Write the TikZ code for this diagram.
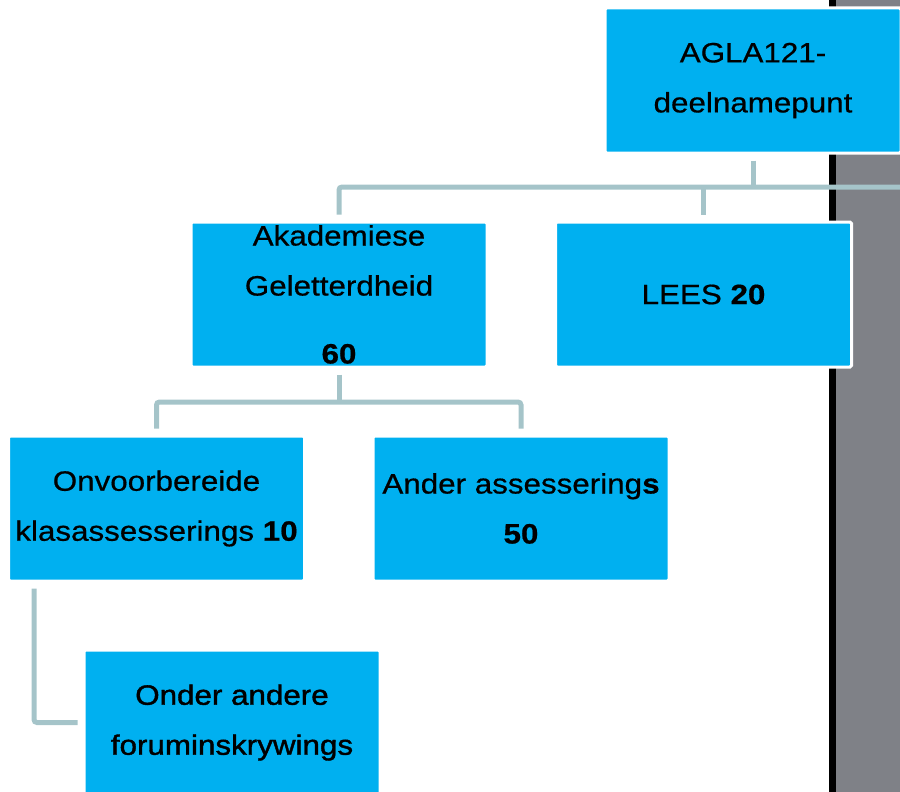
\documentclass[tikz,border=0pt]{standalone}
\usepackage{fontspec}
\setmainfont{Liberation Sans}[FakeStretch=1.12,FakeBold=0.6]
\newfontfamily\heavyfont{Liberation Sans}[FakeStretch=1.12,FakeBold=1.4]
\usetikzlibrary{calc}

\definecolor{boxblue}{RGB}{0,176,240}
\definecolor{linkgray}{RGB}{165,196,201}
\definecolor{panelgray}{RGB}{127,129,135}

\begin{document}
\begin{tikzpicture}[x=1pt,y=-1pt,
        box/.style={rectangle,fill=boxblue,draw=white,line width=3pt,rounded corners=1.5pt,
            minimum width=296pt,minimum height=145pt,inner sep=0pt,align=center,
            font=\fontsize{28}{50}\selectfont},
        link/.style={draw=linkgray,line width=5pt,rounded corners=3pt}]
        \useasboundingbox (0,0) rectangle (900,792);
        \fill[panelgray] (836,0) rectangle (900,792);
        \fill[black] (829,0) rectangle (836,792);
        \coordinate (bus1) at (0,187);
        \coordinate (bus2) at (0,402);
        \node[box] (agla) at (753,80.5) {AGLA121-\\deelnamepunt};
        \node[box] (aka) at (339,294.5) {Akademiese\\Geletterdheid\\[18pt]\textbf{60}};
        \node[box] (lees) at (703.5,294.5) {LEES \textbf{20}};
        \node[box] (onv) at (156.5,508.5) {Onvoorbereide\\klasassesserings \textbf{10}};
        \node[box] (ander) at (521,508.5) {Ander assessering\textbf{s}\\\textbf{50}};
        \node[box,font=\fontsize{28}{50}\heavyfont] (ond) at (232,722.5) {Onder andere\\foruminskrywings};
        \draw[link] ([yshift=-6pt]agla.south) -- (agla.south |- bus1);
        \draw[link] ([yshift=6pt]aka.north) |- (900,187);
        \draw[link] ([yshift=6pt]lees.north) -- (lees.north |- bus1);
        \draw[link] ([yshift=-6pt]aka.south) -- (aka.south |- bus2);
        \draw[link] ([yshift=6pt]onv.north) |- (ander.north |- bus2) -- ([yshift=6pt]ander.north);
        \draw[link] ([xshift=27pt,yshift=-6pt]onv.south west) |- ([xshift=-5pt]ond.west);
    \end{tikzpicture}
\end{document}
